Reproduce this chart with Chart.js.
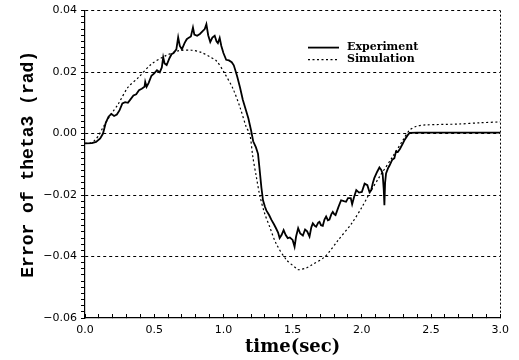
<!doctype html>
<html lang="en">

<head>
    <meta charset="utf-8">
    <title>Error of theta3</title>
    <script src="https://cdn.jsdelivr.net/npm/chart.js"></script>
    <style>
        html, body { margin: 0; padding: 0; background: #fff; }
        canvas { display: block; }
    </style>
</head>

<body>
    <canvas id="errChart" width="519" height="360"></canvas>
    <script>
        // measured tracking error (solid) and simulated error (dotted), rad vs sec
        const expTime = [0.00, 0.05, 0.08, 0.11, 0.13, 0.15, 0.17, 0.19, 0.21, 0.23, 0.25, 0.27, 0.29, 0.31, 0.33, 0.35, 0.37, 0.39, 0.41, 0.43,
            0.435, 0.445, 0.46, 0.48, 0.50, 0.52, 0.54, 0.555, 0.565, 0.575, 0.59, 0.61, 0.625, 0.64, 0.66, 0.673, 0.685, 0.70, 0.72, 0.735,
            0.75, 0.765, 0.78, 0.79, 0.81, 0.83, 0.85, 0.865, 0.877, 0.89, 0.905, 0.92, 0.937, 0.95, 0.96, 0.973, 0.985, 1.00, 1.02, 1.04,
            1.06, 1.075, 1.09, 1.10, 1.12, 1.14, 1.16, 1.18, 1.20, 1.215, 1.235, 1.25, 1.26, 1.274, 1.286, 1.30, 1.31, 1.33, 1.346, 1.365,
            1.38, 1.395, 1.406, 1.42, 1.435, 1.45, 1.465, 1.48, 1.50, 1.514, 1.525, 1.54, 1.555, 1.574, 1.59, 1.605, 1.622, 1.635, 1.646, 1.66,
            1.67, 1.685, 1.694, 1.705, 1.718, 1.73, 1.742, 1.755, 1.766, 1.78, 1.79, 1.80, 1.81, 1.83, 1.85, 1.87, 1.886, 1.90, 1.92, 1.93,
            1.945, 1.96, 1.98, 2.00, 2.02, 2.04, 2.055, 2.067, 2.08, 2.09, 2.11, 2.127, 2.14, 2.15, 2.158, 2.163, 2.168, 2.175, 2.19, 2.20,
            2.22, 2.235, 2.247, 2.26, 2.275, 2.295, 2.31, 2.33, 2.345, 2.40, 2.50, 2.60, 2.70, 2.80, 2.90, 3.00];
        const expError = [-0.0032, -0.0031, -0.0027, -0.0016, 0.0000, 0.0035, 0.0055, 0.0064, 0.0057, 0.0062, 0.0076, 0.0098, 0.0102, 0.0100, 0.0112, 0.0124, 0.0128, 0.0141, 0.0146, 0.0152,
            0.0168, 0.0152, 0.0165, 0.0188, 0.0196, 0.0206, 0.0199, 0.0215, 0.0248, 0.0228, 0.0223, 0.0245, 0.0258, 0.0262, 0.0274, 0.0313, 0.0285, 0.0274, 0.0295, 0.0307,
            0.0312, 0.0316, 0.0345, 0.0322, 0.0318, 0.0324, 0.0333, 0.0340, 0.0356, 0.0320, 0.0298, 0.0312, 0.0318, 0.0300, 0.0294, 0.0311, 0.0285, 0.0262, 0.0240, 0.0238,
            0.0232, 0.0222, 0.0200, 0.0185, 0.0150, 0.0110, 0.0080, 0.0050, 0.0010, -0.0025, -0.0045, -0.0066, -0.0110, -0.0174, -0.0217, -0.0238, -0.0250, -0.0265, -0.0280, -0.0295,
            -0.0308, -0.0322, -0.0340, -0.0330, -0.0314, -0.0330, -0.0340, -0.0338, -0.0346, -0.0368, -0.0335, -0.0308, -0.0325, -0.0332, -0.0312, -0.0318, -0.0335, -0.0305, -0.0292, -0.0300,
            -0.0303, -0.0290, -0.0287, -0.0298, -0.0300, -0.0280, -0.0270, -0.0282, -0.0280, -0.0262, -0.0255, -0.0262, -0.0265, -0.0240, -0.0217, -0.0220, -0.0222, -0.0210, -0.0210, -0.0230,
            -0.0205, -0.0184, -0.0192, -0.0190, -0.0163, -0.0168, -0.0190, -0.0185, -0.0160, -0.0145, -0.0125, -0.0110, -0.0118, -0.0130, -0.0180, -0.0233, -0.0160, -0.0130, -0.0112, -0.0104,
            -0.0085, -0.0080, -0.0058, -0.0060, -0.0050, -0.0033, -0.0020, -0.0006, 0.0002, 0.0003, 0.0003, 0.0003, 0.0003, 0.0003, 0.0003, 0.0003];

        const simTime = [0.00, 0.04, 0.07, 0.10, 0.13, 0.16, 0.19, 0.24, 0.31, 0.385, 0.48, 0.577, 0.673, 0.77, 0.84, 0.90, 0.95, 1.01, 1.07, 1.12,
            1.166, 1.19, 1.213, 1.238, 1.262, 1.298, 1.334, 1.38, 1.454, 1.526, 1.543, 1.60, 1.64, 1.735, 1.83, 1.927, 2.00, 2.055, 2.127, 2.22,
            2.295, 2.343, 2.39, 2.46, 2.70, 2.85, 3.00];
        const simError = [-0.0032, -0.0030, -0.0022, -0.0005, 0.0020, 0.0043, 0.0064, 0.0096, 0.0150, 0.0182, 0.0226, 0.0252, 0.0269, 0.0271, 0.0264, 0.0250, 0.0236, 0.0195, 0.0145, 0.0085,
            0.0020, 0.0000, -0.0077, -0.0141, -0.0200, -0.0260, -0.0303, -0.0357, -0.0410, -0.0438, -0.0443, -0.0437, -0.0427, -0.0400, -0.0346, -0.0292, -0.0240, -0.0195, -0.0141, -0.0077,
            -0.0023, 0.0010, 0.0023, 0.0028, 0.0031, 0.0035, 0.0038];

        const xTickLabels = [0.0, 0.5, 1.0, 1.5, 2.0, 2.5, 3.0];
        const yTickLabels = [-0.06, -0.04, -0.02, 0.00, 0.02, 0.04];
        const seriesNames = ['Experiment', 'Simulation'];

        const isMajor = (v, list) => list.some(m => Math.abs(m - v) < 1e-9);

        // legend is drawn inside the plot, top right
        const innerLegend = {
            id: 'innerLegend',
            afterDraw(chart) {
                const { ctx, chartArea } = chart;
                const x0 = chartArea.left + 223, x1 = chartArea.left + 254;
                const rows = [chartArea.top + 37, chartArea.top + 49];
                ctx.save();
                ctx.strokeStyle = '#000';
                ctx.fillStyle = '#000';
                ctx.font = 'bold 11px "DejaVu Serif"';
                ctx.textBaseline = 'middle';
                chart.data.datasets.forEach((ds, i) => {
                    ctx.lineWidth = ds.borderWidth;
                    ctx.setLineDash(ds.borderDash || []);
                    ctx.beginPath();
                    ctx.moveTo(x0, rows[i]);
                    ctx.lineTo(x1, rows[i]);
                    ctx.stroke();
                    ctx.setLineDash([]);
                    ctx.fillText(ds.label, x1 + 8, rows[i]);
                });
                ctx.restore();
            }
        };

        const ctx = document.getElementById('errChart').getContext('2d');
        new Chart(ctx, {
            type: 'line',
            data: {
                datasets: [{
                    label: seriesNames[0],
                    data: expTime.map((t, i) => ({ x: t, y: expError[i] })),
                    borderColor: '#000',
                    borderWidth: 1.8,
                    pointRadius: 0,
                    tension: 0,
                    fill: false
                }, {
                    label: seriesNames[1],
                    data: simTime.map((t, i) => ({ x: t, y: simError[i] })),
                    borderColor: '#000',
                    borderWidth: 1.2,
                    borderDash: [2, 2.5],
                    pointRadius: 0,
                    tension: 0.3,
                    fill: false
                }]
            },
            options: {
                responsive: false,
                animation: false,
                layout: { padding: { left: 0, right: 18, top: 10, bottom: 0 } },
                plugins: {
                    legend: { display: false },
                    tooltip: { enabled: false }
                },
                scales: {
                    x: {
                        type: 'linear',
                        min: 0,
                        max: 3,
                        afterBuildTicks: s => {
                            const t = [];
                            for (let i = 0; i <= 30; i++) t.push({ value: i / 10 });
                            s.ticks = t;
                        },
                        afterFit: s => { s.height = 42; },
                        ticks: {
                            autoSkip: false,
                            maxRotation: 0,
                            padding: 10,
                            color: '#000',
                            font: { family: 'DejaVu Sans', size: 11 },
                            callback: v => isMajor(v, xTickLabels) ? v.toFixed(1) : ''
                        },
                        grid: {
                            color: c => c.tick && Math.abs(c.tick.value - 3) < 1e-9 ? '#000' : 'rgba(0,0,0,0)',
                            lineWidth: 1,
                            tickColor: '#000',
                            tickLength: -4,
                            tickWidth: 1
                        },
                        border: { display: true, color: '#000', width: 1.2, dash: [2, 2] },
                        title: {
                            display: true,
                            text: 'time(sec)',
                            color: '#000',
                            font: { family: 'DejaVu Serif', size: 18, weight: 'bold' },
                            padding: { top: 0, bottom: 2 }
                        }
                    },
                    y: {
                        min: -0.06,
                        max: 0.04,
                        afterBuildTicks: s => {
                            const t = [];
                            for (let i = -30; i <= 20; i++) t.push({ value: i / 500 });
                            s.ticks = t;
                        },
                        afterFit: s => { s.width = 85; },
                        ticks: {
                            autoSkip: false,
                            padding: 4,
                            color: '#000',
                            font: { family: 'DejaVu Sans', size: 11 },
                            callback: v => isMajor(v, yTickLabels) ? (v < 0 ? '\u2212' + Math.abs(v).toFixed(2) : v.toFixed(2)) : ''
                        },
                        grid: {
                            color: c => c.tick && isMajor(c.tick.value, yTickLabels) && c.tick.value > -0.059 ? '#000' : 'rgba(0,0,0,0)',
                            lineWidth: 1,
                            tickColor: '#000',
                            tickLength: 4,
                            tickWidth: 1
                        },
                        border: { display: true, color: '#000', width: 1.2, dash: [3, 3] },
                        title: {
                            display: true,
                            text: 'Error of theta3 (rad)',
                            color: '#000',
                            font: { family: 'Liberation Mono', size: 18, weight: 'bold' },
                            padding: { top: 18, bottom: 0 }
                        }
                    }
                }
            },
            plugins: [innerLegend]
        });
    </script>
</body>

</html>
